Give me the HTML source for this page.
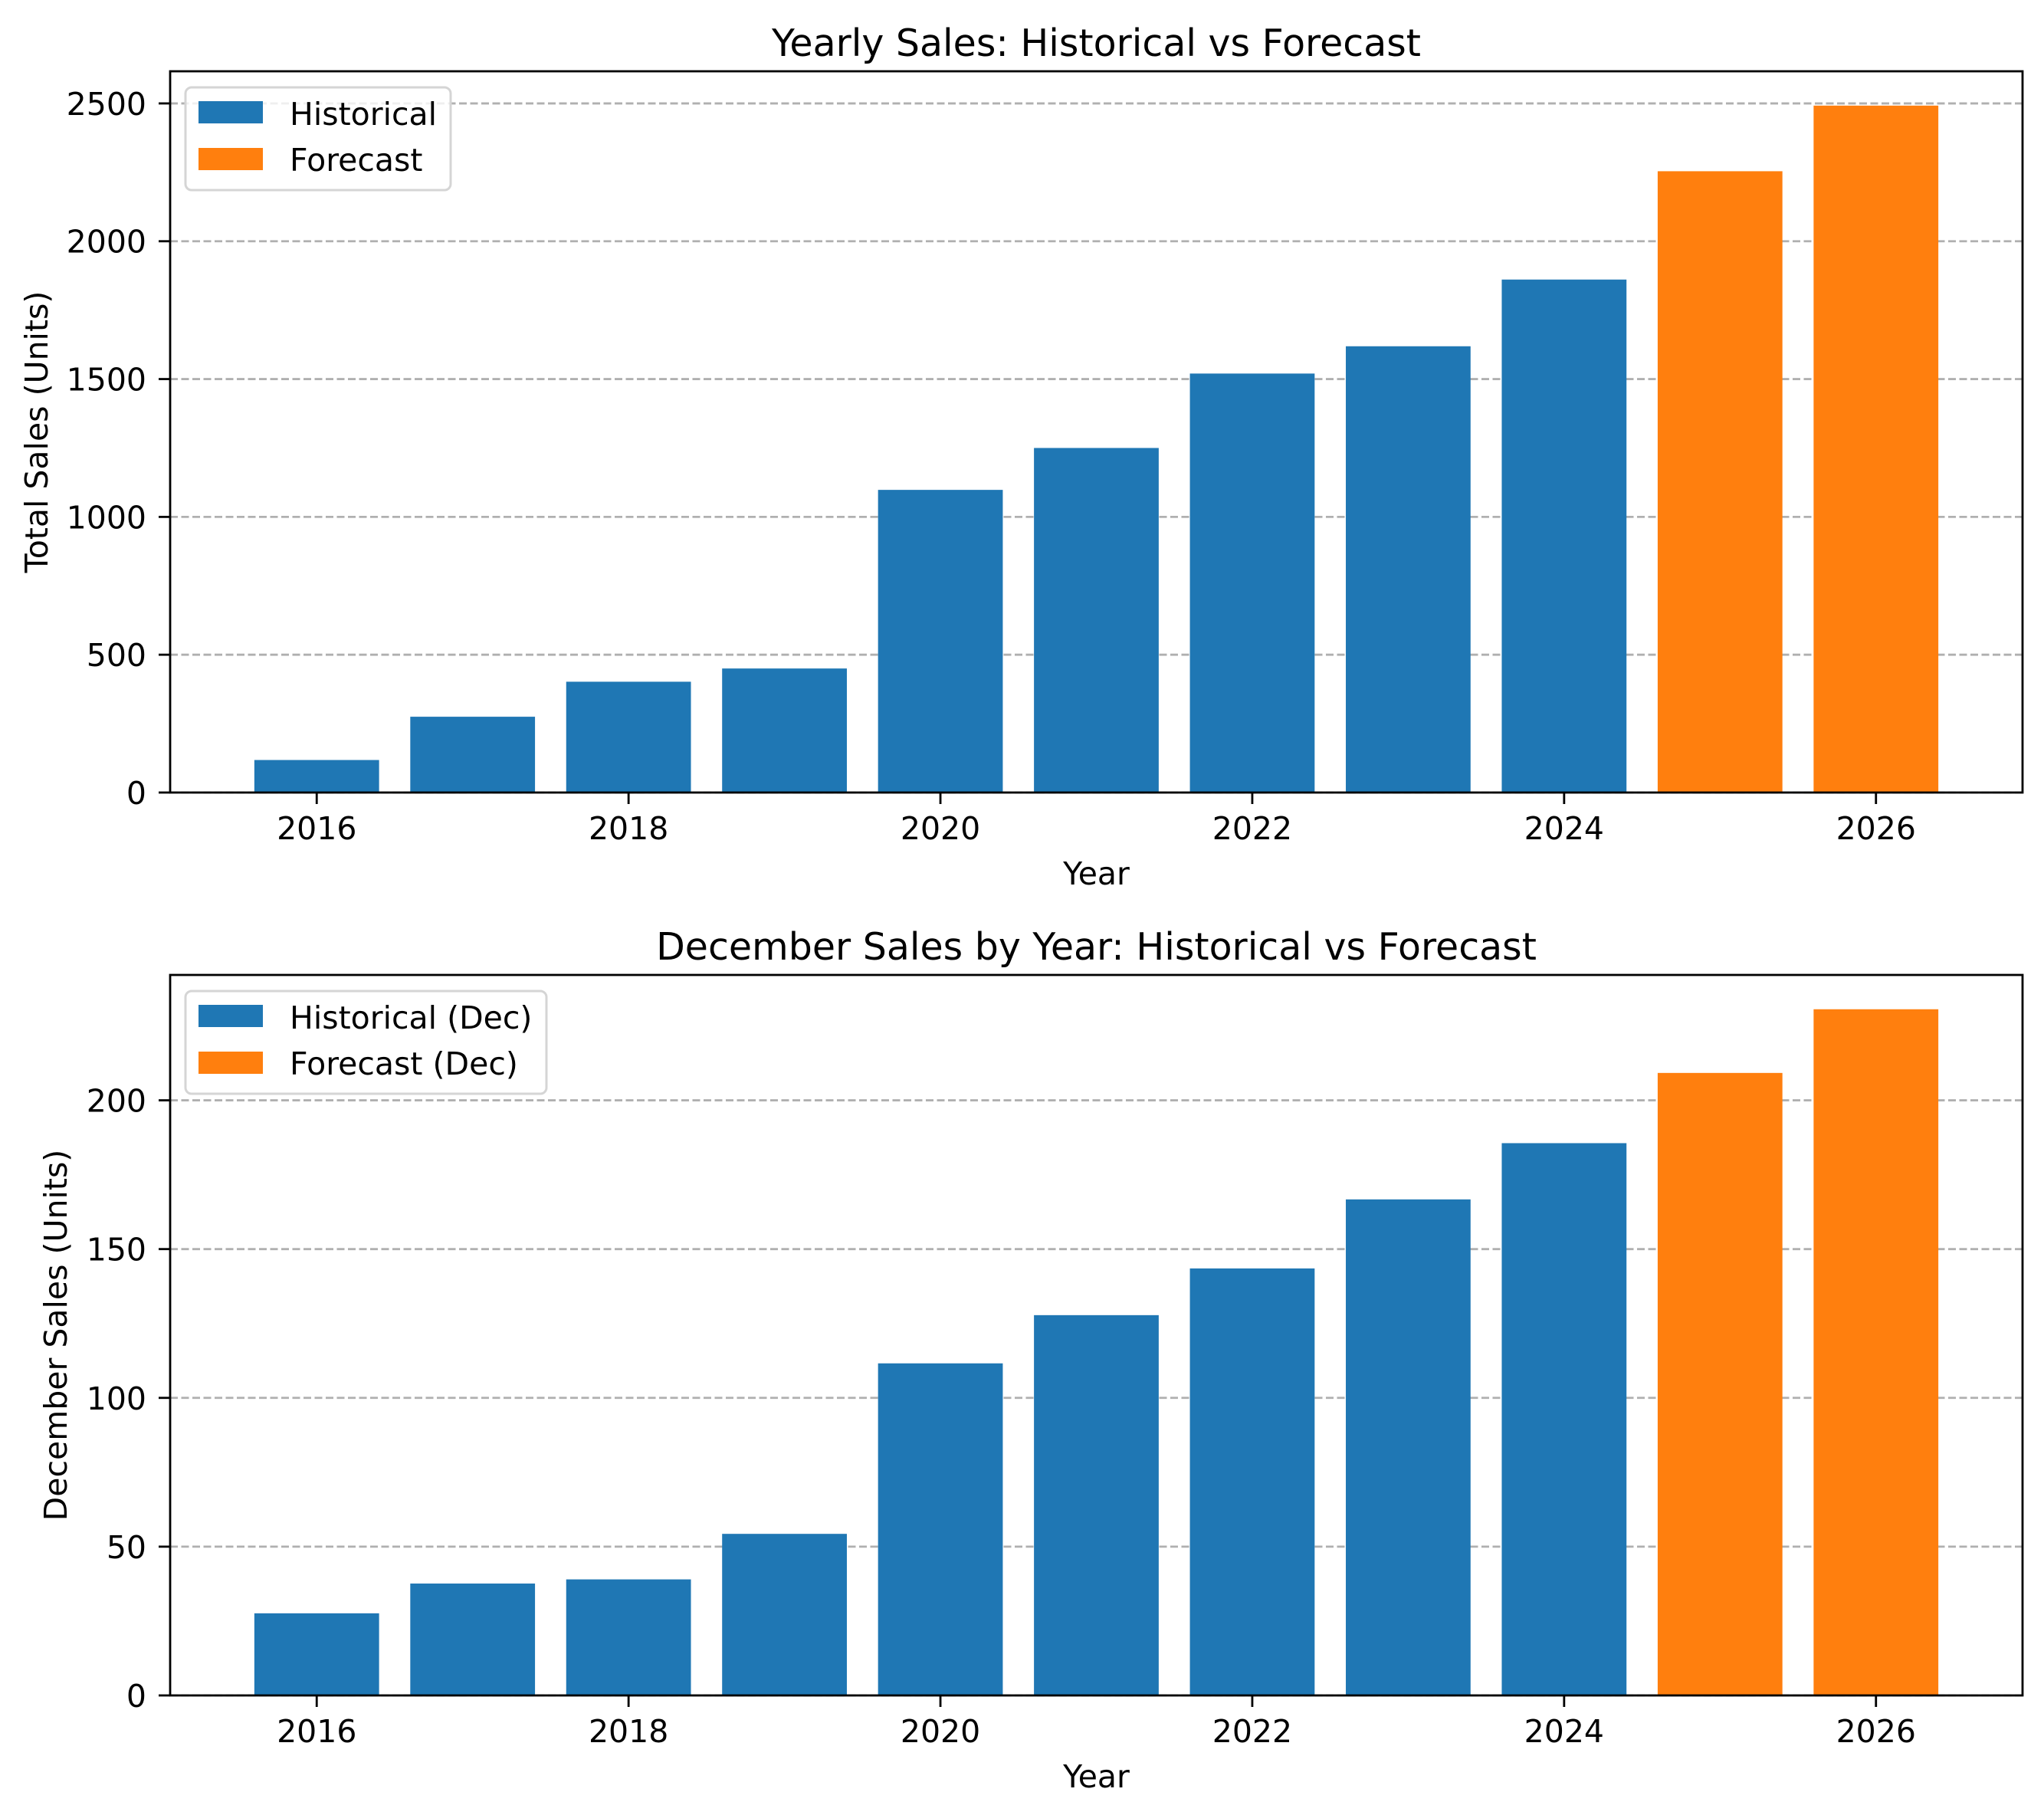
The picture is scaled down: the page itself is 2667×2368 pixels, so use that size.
<!DOCTYPE html>
<html><head><meta charset="utf-8">
<style>
html,body{margin:0;padding:0;background:#fff;}
svg{display:block;font-family:"DejaVu Sans","Liberation Sans",sans-serif;}
</style></head>
<body>
<svg id="chart" width="2667" height="2368" viewBox="0 0 2667 2368" xmlns="http://www.w3.org/2000/svg"></svg>
<script>
const years = [2016,2017,2018,2019,2020,2021,2022,2023,2024,2025,2026];
const isForecast = [false,false,false,false,false,false,false,false,false,true,true];
const yearlySales = [118,275,402,450,1098,1250,1520,1619,1861,2254,2492];
const decemberSales = [27.6,37.6,39,54.3,111.6,127.8,143.5,166.7,185.6,209.2,230.6];
const xTickLabels = [2016,2018,2020,2022,2024,2026];
const yTicksTop = [0,500,1000,1500,2000,2500];
const yTicksBottom = [0,50,100,150,200];

const NS="http://www.w3.org/2000/svg";
const svg=document.getElementById('chart');
function mk(tag,attrs,parent){const e=document.createElementNS(NS,tag);for(const k in attrs)e.setAttribute(k,attrs[k]);(parent||svg).appendChild(e);return e;}

function drawPanel(cfg){
  const g=mk('g',{});
  
  
  const L=222,R=2639,T=cfg.top,B=cfg.bottom;
  const x0=2015.06,x1=2026.94;
  const ymax=Math.max(...cfg.values)*1.05;
  const xs=v=>L+(v-x0)/(x1-x0)*(R-L);
  const ys=v=>B-v/ymax*(B-T);
  cfg.ticks.forEach(t=>{
    const gl=mk('line',{x1:L,x2:R,y1:ys(t),y2:ys(t),stroke:'#b0b0b0','stroke-width':2.8,'stroke-dasharray':'10,4.5'},g);
    
    
  });
  years.forEach((yr,i)=>{
    const w=xs(yr+0.4)-xs(yr-0.4);
    const r=mk('rect',{x:xs(yr-0.4),y:ys(cfg.values[i]),width:w,height:B-ys(cfg.values[i]),fill:isForecast[i]?'#ff7f0e':'#1f77b4'},g);
    
    
  });
  const fr=mk('rect',{x:L,y:T,width:R-L,height:B-T,fill:'none',stroke:'#000','stroke-width':2.8},g);
  
  
  cfg.ticks.forEach(t=>{
    mk('line',{x1:L-15,x2:L,y1:ys(t),y2:ys(t),stroke:'#000','stroke-width':2.8},g);
    const tx=mk('text',{x:L-31,y:ys(t)+15,'font-size':41,'text-anchor':'end',fill:'#000'},g);
    tx.textContent=t;
    
    
  });
  xTickLabels.forEach(t=>{
    mk('line',{x1:xs(t),x2:xs(t),y1:B,y2:B+15,stroke:'#000','stroke-width':2.8},g);
    const tx=mk('text',{x:xs(t),y:B+61,'font-size':41,'text-anchor':'middle',fill:'#000'},g);
    tx.textContent=t;
    
    
  });
  const xl=mk('text',{x:(L+R)/2,y:B+120,'font-size':41,'text-anchor':'middle'},g);
  xl.textContent='Year';
  
  
  const yl=mk('text',{x:0,y:0,'font-size':41,'text-anchor':'middle',transform:`translate(${cfg.ylabelX},${(T+B)/2}) rotate(-90)`},g);
  yl.textContent=cfg.ylabel;
  
  
  const ti=mk('text',{x:(L+R)/2,y:T-20,'font-size':49,'text-anchor':'middle'},g);
  ti.textContent=cfg.title;
  
  
  const lg=mk('g',{},g);
  
  
  mk('rect',{x:L+20,y:T+21,width:cfg.legendW,height:134,rx:8,fill:'#fff','fill-opacity':0.8,stroke:'#d5d5d5','stroke-width':3},lg);
  cfg.legend.forEach((lab,i)=>{
    const e=mk('g',{},lg);
    
    
    mk('rect',{x:L+37,y:T+39+i*61,width:84,height:29,fill:i?'#ff7f0e':'#1f77b4'},e);
    const t=mk('text',{x:L+156,y:T+70+i*60,'font-size':41},e);
    t.textContent=lab;
  });
}
drawPanel({name:'yearly-sales-chart',top:93,bottom:1034,values:yearlySales,ticks:yTicksTop,ylabel:'Total Sales (Units)',ylabelX:62,title:'Yearly Sales: Historical vs Forecast',legend:['Historical','Forecast'],legendW:346});
drawPanel({name:'december-sales-chart',top:1272,bottom:2212,values:decemberSales,ticks:yTicksBottom,ylabel:'December Sales (Units)',ylabelX:87,title:'December Sales by Year: Historical vs Forecast',legend:['Historical (Dec)','Forecast (Dec)'],legendW:471});
</script>
</body></html>
